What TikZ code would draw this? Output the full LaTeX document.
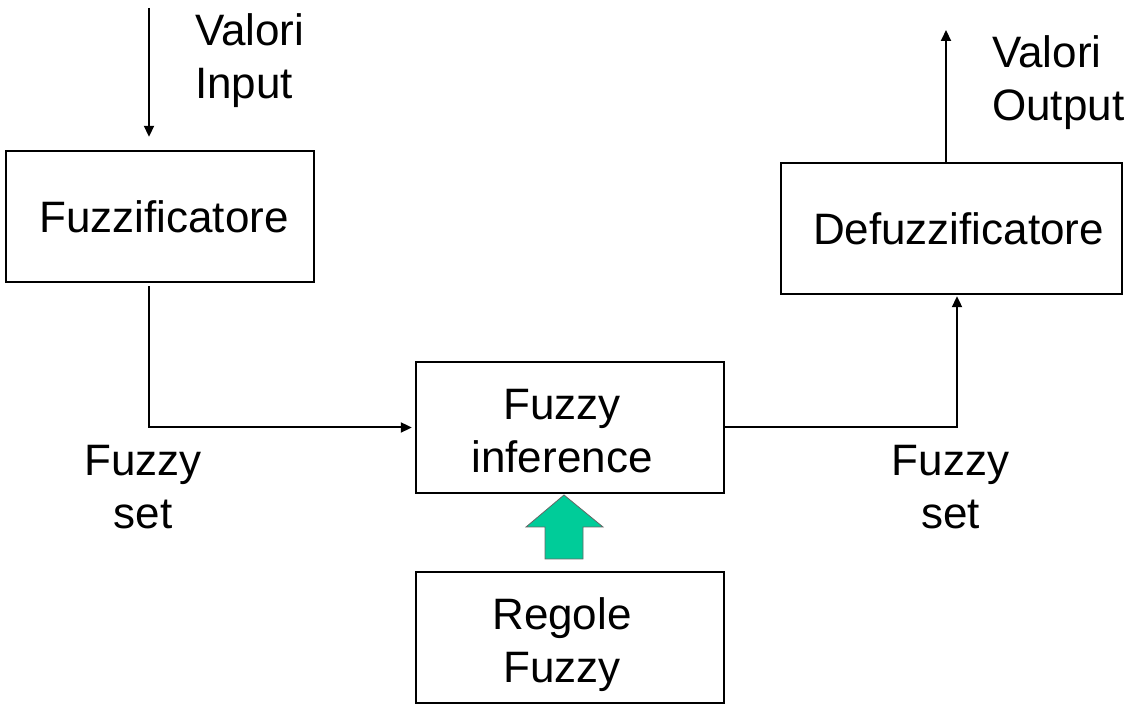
\documentclass[tikz,border=0pt]{standalone}
\usepackage{fontspec}
\setmainfont[Ligatures=NoCommon]{Liberation Sans}
\usetikzlibrary{arrows.meta}
\definecolor{rulegreen}{RGB}{0,204,153}
\tikzset{
  block/.style={draw=black, line width=2.4pt, rectangle, inner sep=0pt,
    align=center, text depth=0pt, font=\fontsize{44}{53}\selectfont},
  conn/.style={draw=black, line width=2pt,
    -{Triangle[length=11pt,width=10pt]}},
  lbl/.style={inner sep=0pt, font=\fontsize{44}{53}\selectfont},
}
\begin{document}
\begin{tikzpicture}[x=1pt,y=1pt]
\useasboundingbox (0,0) rectangle (1140,714);
% blocks
\node[block, minimum width=308pt, minimum height=131pt] (fuz) at (160,497.5) {\hspace*{8pt}Fuzzificatore};
\node[block, minimum width=341pt, minimum height=131pt] (defuz) at (951.5,485.5) {\hspace*{14pt}Defuzzificatore};
\node[block, minimum width=308pt, minimum height=131pt] (inf) at (570,286.5) {\rule{0pt}{38pt}Fuzzy\hspace*{16pt}\\inference\hspace*{16pt}};
\node[block, minimum width=308pt, minimum height=131pt] (reg) at (570,76.5) {\rule{0pt}{38pt}Regole\hspace*{16pt}\\Fuzzy\hspace*{16pt}};
% free ends
\coordinate (in) at (149,706);
\coordinate (out) at (946,684);
% connectors
\draw[conn] (in) -- ([yshift=13pt]in |- fuz.north);
\draw[conn, shorten >=3pt] ([yshift=-3pt]fuz.south -| in) |- (inf.west);
\draw[conn, shorten >=1pt] (inf.east) -| ([xshift=5.5pt]defuz.south);
\draw[conn] ([xshift=-5.5pt]defuz.north) -- (out);
% green block arrow from rules to inference
\draw[fill=rulegreen, draw=black!60, line width=0.8pt]
  (564,219) -- (603,187) -- (583,187) -- (583,155) -- (545,155) -- (545,187) -- (526,187) -- cycle;
% labels
\node[lbl, anchor=north west, align=left] (vin) at (195,700.5) {Valori\\Input};
\node[lbl, anchor=north west, align=left] (vout) at (992,678.5) {Valori\\Output};
\node[lbl, anchor=north, align=center] (fsl) at (143,268.5) {Fuzzy\\set};
\node[lbl, anchor=north, align=center] (fsr) at (950.5,268.5) {Fuzzy\\set};
\end{tikzpicture}
\end{document}
